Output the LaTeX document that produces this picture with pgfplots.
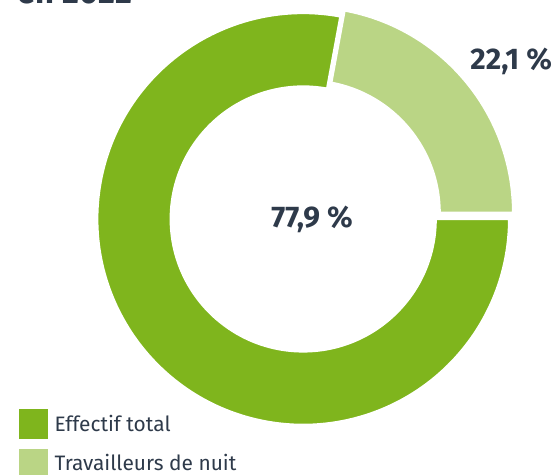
\documentclass[border=0pt]{standalone}
\usepackage{fontspec}
\setmainfont{Fira Sans}
\usepackage{pgfplots}
\pgfplotsset{compat=1.18}
\usepackage{pgfplotstable}

\definecolor{dgreen}{HTML}{7FB51D}
\definecolor{lgreen}{HTML}{BAD585}
\definecolor{txt}{HTML}{2E3A4A}

% shares in percent
\pgfplotstableread{
share value
total 77.9
nuit 22.1
}\donut

\begin{document}
\pgfplotstablegetelem{1}{value}\of\donut
\pgfmathsetmacro\angN{3.6*\pgfplotsretval}
\begin{tikzpicture}
\begin{axis}[
    x=1pt, y=1pt,
    xmin=0, xmax=558, ymin=0, ymax=477,
    hide axis,
]
\coordinate (bl) at (axis cs:0,0);
\coordinate (tr) at (axis cs:558,477);
% Effectif total
\fill[dgreen, draw=white, line width=2.5pt] (axis cs:302,257) ++(\angN:207pt)
    arc[start angle=\angN, end angle=360, radius=207pt] -- ++(-74pt,0)
    arc[start angle=360, end angle=\angN, radius=133pt] -- cycle;
% Travailleurs de nuit (pulled out)
\fill[lgreen, draw=white, line width=2.5pt] (axis cs:306,263) ++(0:207pt)
    arc[start angle=0, end angle=\angN, radius=207pt] -- ++({\angN+180}:74pt)
    arc[start angle=\angN, end angle=0, radius=133pt] -- cycle;

\node[anchor=base, inner sep=0pt, text=txt, font=\fontsize{30}{30}\selectfont\bfseries]
    at (axis cs:311,248) {77,9 \%};
\node[anchor=base, inner sep=0pt, text=txt, font=\fontsize{30}{30}\selectfont\bfseries]
    at (axis cs:511,407) {22,1 \%};

\node[anchor=base west, inner sep=0pt, text=txt, font=\fontsize{33}{33}\selectfont\bfseries]
    at (axis cs:15,473) {en 2022};

% legend
\fill[dgreen] (axis cs:16,36) rectangle (axis cs:46,66);
\fill[lgreen] (axis cs:16,-4) rectangle (axis cs:46,26);
\node[anchor=base west, inner sep=0pt, text=txt, font=\fontsize{21}{21}\selectfont]
    at (axis cs:52,43) {Effectif total};
\node[anchor=base west, inner sep=0pt, text=txt, font=\fontsize{21}{21}\selectfont]
    at (axis cs:52,4) {Travailleurs de nuit};
\end{axis}
\pgfresetboundingbox
\path[use as bounding box] (bl) rectangle (tr);
\end{tikzpicture}
\end{document}
